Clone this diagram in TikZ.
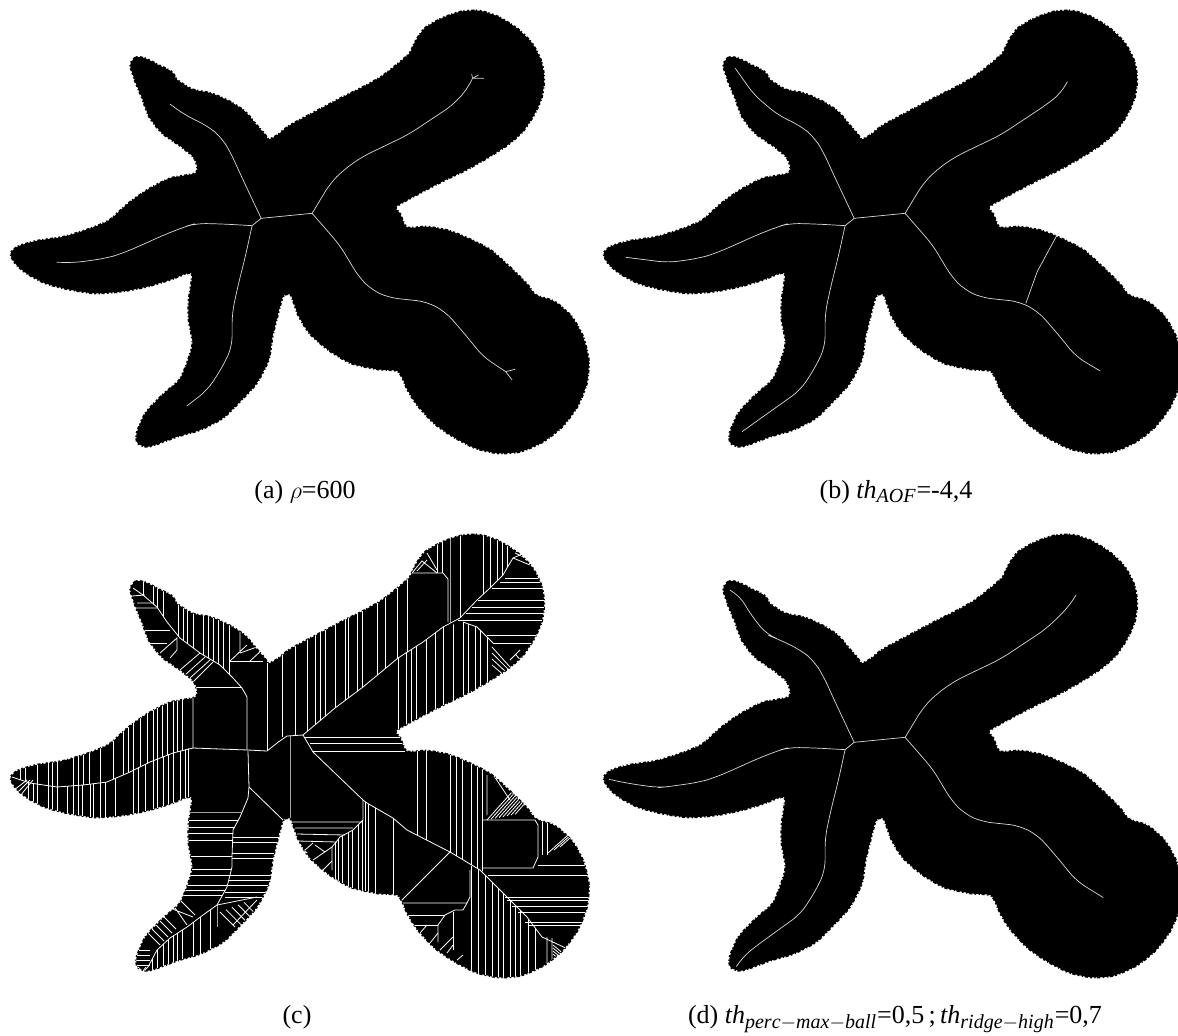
\documentclass[tikz,border=0pt]{standalone}
\usepackage{amsmath}
\usepackage{fontspec}
\setmainfont{Liberation Serif}
\DeclareMathSizes{13}{13}{10}{8}

\tikzset{
  starpanel/.style={shift={(#1)}, xscale=0.3774, yscale=0.3333},
  rough/.style={fill=black, draw=black, line width=1pt, dash pattern=on 0.9pt off 1.1pt on 1.6pt off 0.8pt on 0.6pt off 1.3pt},
  ridge/.style={draw=white!85!black, line width=0.35pt, line join=round},
  armline/.style={ridge, rounded corners=5pt},
  hatch/.style={draw=white, line width=0.4pt},
  hatchgray/.style={draw=white!65!black, line width=0.45pt},
  caption/.style={anchor=base, font=\fontsize{13pt}{15pt}\selectfont, inner sep=0pt}
}

\newcommand{\starpath}{plot[smooth cycle, tension=0.4] coordinates {
  (345,195) (360,172) (385,175) (420,195) (455,215) (470,240) (510,268) (560,280) (610,305) (650,335)
  (680,375) (700,400) (712,418) (735,405) (765,378) (810,350) (860,320) (910,290) (960,262) (1010,230)
  (1050,195) (1085,160) (1100,125) (1125,85) (1170,55) (1220,35) (1270,32) (1320,50) (1370,85) (1410,130)
  (1435,185) (1442,240) (1435,295) (1415,345) (1385,395) (1345,435) (1290,475) (1235,510) (1180,540) (1120,575)
  (1050,620) (1060,640) (1078,682) (1130,680) (1190,692) (1250,720) (1300,750) (1350,800) (1395,850) (1420,885)
  (1470,905) (1515,950) (1545,1010) (1560,1080) (1555,1150) (1530,1220) (1490,1280) (1440,1325) (1380,1355) (1320,1360)
  (1260,1345) (1200,1310) (1150,1270) (1105,1215) (1080,1170) (1055,1115) (1000,1108) (930,1090) (870,1050) (820,1000)
  (790,945) (770,885) (750,890) (735,950) (722,1010) (712,1080) (680,1150) (640,1200) (590,1255) (530,1290)
  (470,1310) (395,1340) (365,1330) (362,1300) (385,1240) (430,1185) (475,1140) (495,1090) (510,1030) (500,960)
  (500,900) (507,820) (450,840) (390,860) (320,875) (250,880) (180,868) (120,850) (70,820) (40,790)
  (28,760) (50,738) (100,722) (170,710) (240,685) (290,660) (340,610) (390,570) (450,535) (520,518)
  (515,475) (480,440) (430,400) (395,350) (375,290) (360,250)
}}

% arms shared by the panels, each panel finishes them
\newcommand{\hub}{(668,677) -- (692,655) -- (827,640)}
\newcommand{\armnw}{(692,655) -- (640,530) -- (610,455) -- (585,410) -- (550,378) -- (490,345)}
\newcommand{\armw}{(668,677) -- (590,672) -- (520,670) -- (490,680) -- (430,707) -- (370,738) -- (320,762) -- (280,775) -- (200,788)}
\newcommand{\arms}{(668,677) -- (650,770) -- (630,860) -- (615,940) -- (615,1040) -- (590,1100) -- (550,1170)}
\newcommand{\armne}{(827,640) -- (875,550) -- (910,510) -- (960,470) -- (1080,405) -- (1200,315)}
\newcommand{\armse}{(827,640) -- (900,735) -- (950,830) -- (985,870) -- (1030,893) -- (1130,905) -- (1180,935) -- (1230,1000) -- (1280,1070)}

\begin{document}
\begin{tikzpicture}[x=0.5pt, y=-0.5pt]
  \useasboundingbox (0,0) rectangle (1178,1035);

  \path[starpanel={0,0}, rough] \starpath;
  \path[starpanel={593,0}, rough] \starpath;
  \path[starpanel={0,524}, rough] \starpath;
  \path[starpanel={593,524}, rough] \starpath;

  % (a)
  \begin{scope}[starpanel={0,0}]
    \draw[ridge] \hub;
    \draw[armline] \armnw -- (450,312);
    \draw[armline] \armw -- (150,787);
    \draw[armline] \arms -- (495,1218);
    \draw[armline] \armne -- (1240,265) -- (1252,235);
    \draw[ridge] (1252,235) -- (1250,222) (1252,235) -- (1282,235) (1252,235) -- (1268,225);
    \draw[armline] \armse -- (1340,1115);
    \draw[ridge] (1340,1115) -- (1365,1108) (1340,1115) -- (1357,1140);
  \end{scope}

  % (b)
  \begin{scope}[starpanel={593,0}]
    \draw[ridge] \hub;
    \draw[armline] \armnw -- (427,285) -- (377,205);
    \draw[armline] \armw -- (87,772);
    \draw[armline] \arms -- (395,1295);
    \draw[armline] \armne -- (1240,280) -- (1257,245);
    \draw[armline] \armse -- (1344,1113);
    \draw[ridge] (1147,910) -- (1177,815) -- (1232,700);
  \end{scope}

  % (d)
  \begin{scope}[starpanel={593,524}]
    \draw[ridge] \hub;
    \draw[armline] \armnw -- (462,333) -- (422,278) -- (387,213) -- (367,201);
    \draw[armline] \armw -- (172,791) -- (92,778) -- (42,766);
    \draw[armline] \arms -- (442,1258) -- (397,1298) -- (380,1328);
    \draw[armline] \armne -- (1257,253) -- (1280,213);
    \draw[armline] \armse -- (1352,1121);
  \end{scope}

  % (c)
  \begin{scope}
    \clip[starpanel={0,524}] \starpath;

    % main ridges
    \draw[hatch] (133,588) -- (143,595) -- (157,607) -- (167,622) -- (180,638) -- (200,653) -- (220,665) -- (233,678) -- (242,688) -- (247,697) -- (247,750);
    \draw[hatch] (193,687) -- (241,687);
    \draw[hatch] (193,698) -- (193,748) -- (248,750) -- (267,751) -- (277,743) -- (287,736) -- (303,735);
    \draw[hatch] (267,663) -- (267,751);
    \draw[hatch] (248,751) -- (249,787) -- (248,798) -- (240,817) -- (233,830) -- (232,857) -- (232,867) -- (227,887) -- (217,905) -- (203,915) -- (187,927) -- (170,938) -- (157,950) -- (148,967) -- (143,972);
    \draw[hatch] (249,787) -- (283,820);
    \draw[hatch] (12,777) -- (30,783) -- (57,787) -- (83,785) -- (107,782) -- (130,772) -- (150,762) -- (173,753) -- (193,748);
    \draw[hatch] (303,735) -- (335,708) -- (363,687) -- (398,658) -- (423,642) -- (443,627) -- (460,618) -- (477,600) -- (490,588) -- (503,575) -- (507,568) -- (513,558) -- (520,555);
    \draw[hatch] (303,735) -- (313,752) -- (363,800) -- (367,803) -- (393,818) -- (407,830) -- (450,852) -- (480,870) -- (497,887) -- (513,903) -- (527,917) -- (542,937);
    \draw[hatchgray] (290,735) -- (290,818);

    % left arm
    \begin{scope}
      \clip (0,690) -- (193,690) -- (193,748) -- (173,753) -- (150,762) -- (130,772) -- (107,782) -- (83,785) -- (57,787) -- (30,783) -- (12,777) -- (0,770) -- cycle;
      \foreach \x in {20,25,37,48,52,57,73,78,83,89,100,113,123,128,133,140,147,153,157,162,167,173,177,182}
        \draw[hatch] (\x,690) -- (\x,790);
    \end{scope}
    \begin{scope}
      \clip (12,777) -- (30,783) -- (57,787) -- (83,785) -- (107,782) -- (130,772) -- (150,762) -- (173,753) -- (190,748) -- (190,830) -- (0,830) -- cycle;
      \foreach \x in {28,33,37,48,52,57,67,73,78,82,90,93,100,105,115,133,138,145,153,157,163,168,173,180,185,188}
        \draw[hatch] (\x,745) -- (\x,830);
    \end{scope}
    \foreach \d in {0,3,6}
      \draw[hatch] (14+\d,790+\d) -- (27+\d,780);

    % upper left arm
    \begin{scope}
      \clip (133,588) -- (143,595) -- (157,607) -- (167,622) -- (180,638) -- (200,653) -- (220,665) -- (233,678) -- (233,600) -- (133,570) -- cycle;
      \foreach \x in {143,153,157,163,178,183,187,193,203,208,213,218,223,229}
        \draw[hatch] (\x,570) -- (\x,680);
    \end{scope}
    \draw[hatch] (230,661) -- (263,661);
    \draw[hatch] (230,661) -- (247,645) (240,653) -- (257,647) (240,630) -- (240,652) (250,661) -- (262,650);
    \draw[hatch] (132,596) -- (145,595) (137,603) -- (152,603) (135,608) -- (157,608);
    \draw[hatch] (143,630) -- (170,630) (150,643) -- (167,643);
    \draw[hatch] (160,653) -- (177,638) -- (177,650) -- (170,658);
    \foreach \a/\b/\c/\e in {200/653/180/670, 205/657/185/675, 210/660/190/678, 213/662/193/682}
      \draw[hatch] (\a,\b) -- (\c,\e);

    % upper right arm
    \begin{scope}
      \clip (270,600) -- (520,500) -- (520,555) -- (513,558) -- (507,568) -- (503,575) -- (490,588) -- (477,600) -- (460,618) -- (443,627) -- (423,642) -- (398,658) -- (363,687) -- (335,708) -- (303,735) -- (270,738) -- cycle;
      \foreach \x in {282,295,307,315,320,325,335,345,348,357,362,377,385,397,407,460,483,490,497,502,507}
        \draw[hatch] (\x,530) -- (\x,740);
      \draw[hatchgray] (450,530) -- (450,625);
    \end{scope}
    \draw[hatch] (410,573) -- (443,573) -- (448,579) -- (448,622);
    \draw[hatch] (412,573) -- (422,561) -- (437,573) (417,571) -- (427,560) (427,553) -- (437,570);
    \foreach \x in {437,442}
      \draw[hatch] (\x,530) -- (\x,573);
    \foreach \y/\a in {578/505, 582/500, 588/492, 600/478, 607/472, 613/466, 620/458}
      \draw[hatch] (\a,\y) -- (560,\y);
    \draw[hatch] (513,558) -- (530,565) (515,553) -- (530,560);
    \begin{scope}
      \clip (398,658) -- (423,642) -- (443,627) -- (463,622) -- (477,627) -- (487,637) -- (493,643) -- (493,700) -- (398,735) -- cycle;
      \foreach \x in {398,406,411,416,426,435,443,453,463,468,475,480,487}
        \draw[hatch] (\x,620) -- (\x,735);
    \end{scope}
    \draw[hatch] (463,622) -- (477,627) -- (487,637) -- (493,643);
    \draw[hatch] (487,635) -- (540,635) (493,643) -- (535,643);
    \foreach \d in {0,6,12,18}
      \draw[hatch] (492,647+\d) -- (510+\d*0.3,667+\d);
    \draw[hatch] (510,660) -- (520,650) (516,655) -- (525,665);
    \foreach \y/\a in {737/305, 743/310, 751/313}
      \draw[hatch] (\a,\y) -- (405,\y);

    % lower right arm
    \begin{scope}
      \clip (405,750) -- (490,750) -- (490,875) -- (480,870) -- (450,852) -- (407,830) -- cycle;
      \foreach \x in {417,426,450,456,462,471,477,482}
        \draw[hatch] (\x,745) -- (\x,880);
    \end{scope}
    \draw[hatch] (482,820) -- (535,820) -- (538,825) -- (538,857) -- (533,868) -- (482,868);
    \foreach \d in {0,4,8,12,16,20,24,28}
      \draw[hatch] (487+\d,820-\d*0.2) -- (512+\d,792-\d*0.2);
    \draw[hatch] (487,775) -- (487,815) (490,770) -- (510,800) (495,775) -- (515,795);
    \foreach \x in {542,547}
      \draw[hatch] (\x,820) -- (\x,855);
    \foreach \d in {0,6,12}
      \draw[hatch] (548+\d,853-\d*0.5) -- (568+\d,835-\d*0.5);
    \draw[hatch] (538,865) -- (595,865);
    \foreach \y/\a in {875/488, 897/505, 900/507, 906/512, 912/518, 922/525, 925/528}
      \draw[hatch] (\a,\y) -- (595,\y);
    \begin{scope}
      \clip (471,866) -- (480,870) -- (497,887) -- (513,903) -- (527,917) -- (542,937) -- (542,990) -- (471,990) -- cycle;
      \foreach \x in {471,478,485,492,498,503,510,515,520,528,535}
        \draw[hatch] (\x,860) -- (\x,990);
    \end{scope}
    \draw[hatch] (542,937) -- (570,950) (547,937) -- (547,970) (552,938) -- (552,968);
    \foreach \d in {0,3,6,9}
      \draw[hatch] (553,945+\d) -- (565,955+\d);

    % small parts round the lower notch
    \draw[hatch] (450,852) -- (402,900);
    \draw[hatch] (403,903) -- (467,903) -- (470,897) -- (470,870);
    \draw[hatch] (467,903) -- (463,910) -- (455,910) -- (445,915) -- (438,925) -- (438,942);
    \draw[hatch] (408,915) -- (445,915) (413,925) -- (438,925) (453,912) -- (453,950);
    \foreach \a/\b/\c/\e in {440/950/453/937, 447/953/453/945, 457/960/463/955, 420/933/427/925, 430/943/438/933}
      \draw[hatch] (\a,\b) -- (\c,\e);

    \draw[hatch] (363,800) -- (363,820) -- (353,830) -- (340,837) -- (332,847) -- (332,870);
    \draw[hatch] (292,822) -- (363,822) (295,828) -- (353,828) (297,834) -- (345,835) (298,841) -- (337,842);
    \begin{scope}
      \clip (332,847) -- (340,837) -- (353,830) -- (363,820) -- (363,800) -- (367,803) -- (393,818) -- (407,830) -- (407,905) -- (332,905) -- cycle;
      \foreach \x in {335,338,342,348,352,358,362,365,368,375,393}
        \draw[hatch] (\x,795) -- (\x,905);
    \end{scope}
    \foreach \a/\b/\c/\e in {313/860/332/847, 305/850/313/843, 323/870/332/861, 300/846/307/853, 315/845/325/852}
      \draw[hatch] (\a,\b) -- (\c,\e);

    % lower arm
    \begin{scope}
      \clip (180,800) -- (248,800) -- (240,817) -- (233,830) -- (232,857) -- (232,867) -- (227,887) -- (217,905) -- (170,905) -- cycle;
      \foreach \y in {820,827,833,840,856,869,875,885,890,895}
        \draw[hatch] (180,\y) -- (250,\y);
      \draw[hatchgray] (180,812) -- (250,812);
    \end{scope}
    \begin{scope}
      \clip (249,787) -- (283,820) -- (290,900) -- (217,905) -- (227,887) -- (232,867) -- (232,857) -- (233,830) -- (240,817) -- cycle;
      \foreach \y in {837,842,853,858,875,880,885,892,897}
        \draw[hatch] (225,\y) -- (290,\y);
    \end{scope}
    \foreach \d in {0,4,8,12,16}
      \draw[hatch] (147+\d,932-\d) -- (160+\d,945-\d);
    \draw[hatch] (170,908) -- (193,917) (173,905) -- (187,925) (180,900) -- (195,915);
    \foreach \y in {950,955,960,965}
      \draw[hatch] (135,\y) -- (150,\y);
    \draw[hatch] (138,967) -- (146,975) (146,967) -- (140,975);
    \begin{scope}
      \clip (143,972) -- (148,967) -- (157,950) -- (170,938) -- (187,927) -- (203,915) -- (217,905) -- (217,990) -- (143,990) -- cycle;
      \foreach \x in {152,157,163,168,173,177,182,193,200,210}
        \draw[hatch] (\x,900) -- (\x,990);
    \end{scope}
    \draw[hatchgray] (217,905) -- (217,927);
    \foreach \d in {0,6,12,18,24}
      \draw[hatch] (220+\d,912+\d*0.2-\d*0.6) -- (235+\d,927+\d*0.2-\d*0.6);
    \draw[hatch] (233,925) -- (257,900) (217,905) -- (257,897);
  \end{scope}

  \node[caption] (capa) at (305,498) {(a)~$\rho$=600};
  \node[caption] (capb) at (896,498) {(b)~$\mathit{th}_{\mathit{AOF}}$=-4,4};
  \node[caption] (capc) at (297,1023) {(c)};
  \node[caption] (capd) at (895,1023) {(d)~$\mathit{th}_{\mathit{perc}-\mathit{max}-\mathit{ball}}$=0,5\,;\,$\mathit{th}_{\mathit{ridge}-\mathit{high}}$=0,7};
\end{tikzpicture}
\end{document}
